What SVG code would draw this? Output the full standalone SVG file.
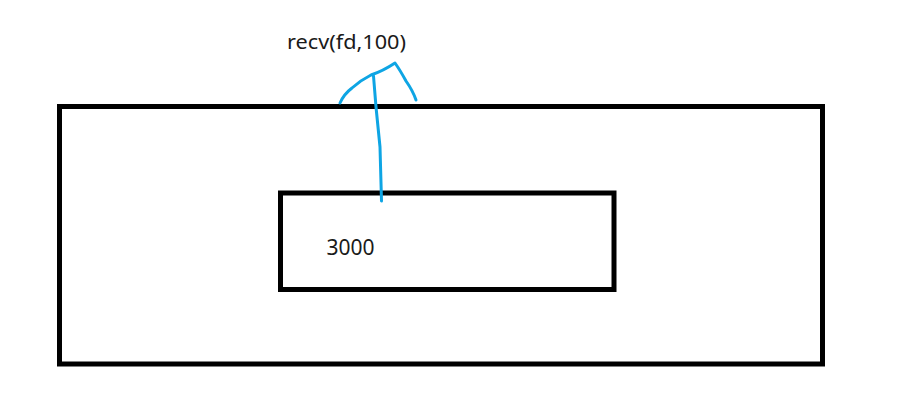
<svg xmlns="http://www.w3.org/2000/svg" width="910" height="410" viewBox="0 0 910 410">
<style>
.box{fill:none;stroke:#000;stroke-width:5}
.lbl{font-family:"Noto Sans","Open Sans",sans-serif;fill:#1a1a1a}
.conn{fill:none;stroke:#0ea5e4;stroke-width:3;stroke-linecap:round;stroke-linejoin:round}
</style>
<rect width="910" height="410" fill="#fff"/>
<g id="outer"><rect class="box" x="59.5" y="106.5" width="763" height="257.5"/></g>
<g id="inner"><rect class="box" x="280.5" y="193" width="333.5" height="96.5"/>
<text class="lbl" x="326.5" y="255" font-size="21">3000</text></g>
<g id="connectors">
<path class="conn" d="M381.5,201 L380,147 L376,107 L373.5,76"/>
<path class="conn" d="M340,103 Q344,94 352,88 Q361,80 371,75 Q383,71 395,63 Q400,70 406,81 Q413,91 416,100"/>
<text class="lbl" x="287" y="49" font-size="20" textLength="119" lengthAdjust="spacingAndGlyphs">recv(fd,100)</text>
</g>
</svg>
